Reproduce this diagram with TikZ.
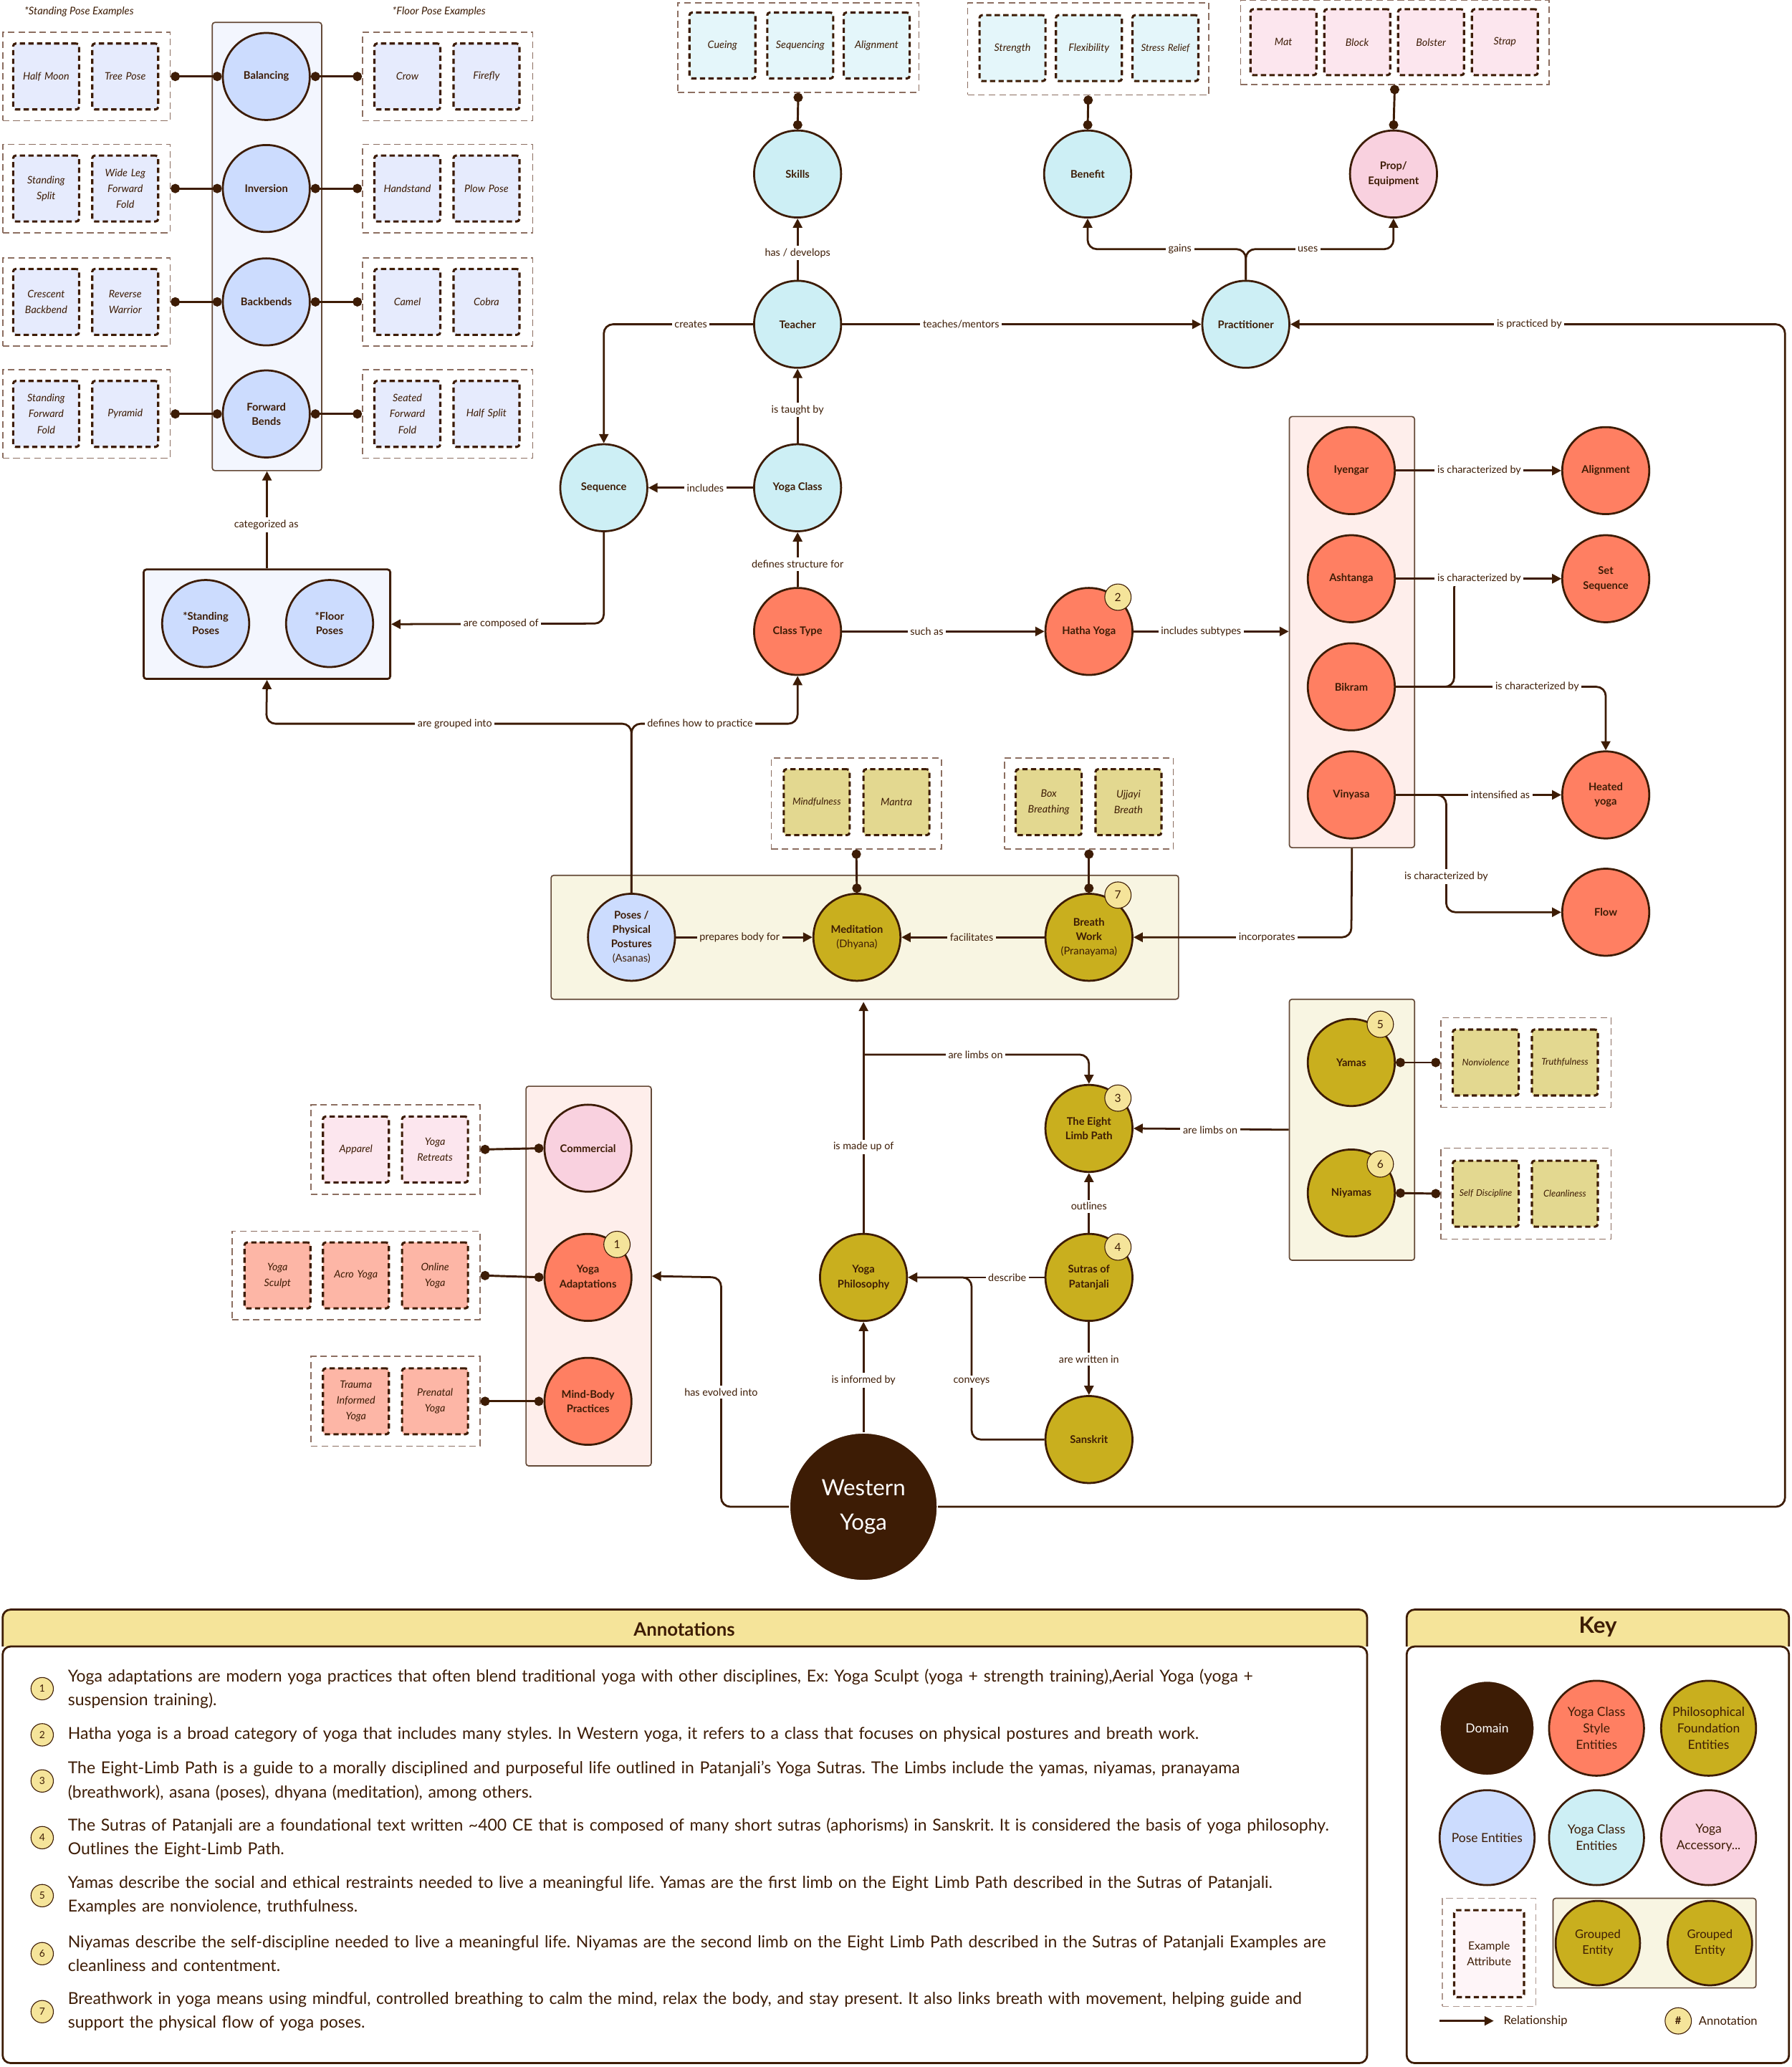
\documentclass[tikz,border=0pt]{standalone}
\usepackage{fontspec}
\setmainfont{Lato}
\usetikzlibrary{arrows.meta}
\newcommand\myannfont{\fontsize{12.5}{18}\selectfont\frenchspacing\hyphenpenalty 10000\exhyphenpenalty 10000\relax}
\definecolor{dk}{HTML}{3D1C05}
\definecolor{gb}{HTML}{8C6E60}
\definecolor{salmon}{HTML}{FF7F62}
\definecolor{olive}{HTML}{C9AF1E}
\definecolor{pinkc}{HTML}{F9D1DF}
\definecolor{cyanc}{HTML}{CDEFF5}
\definecolor{bluec}{HTML}{CCDCFE}
\definecolor{badgec}{HTML}{F5E49A}
\definecolor{blueL}{HTML}{E6EBFD}
\definecolor{cyanL}{HTML}{E4F6FA}
\definecolor{pinkL}{HTML}{FCE6EE}
\definecolor{oliveL}{HTML}{E3D890}
\definecolor{salL}{HTML}{FDB6A6}
\definecolor{cream}{HTML}{F8F5E2}
\definecolor{rose}{HTML}{FEEEEB}
\definecolor{paleblue}{HTML}{F3F6FE}
\tikzset{
ent/.style={circle, draw=dk, line width=1.5pt, minimum size=66pt, inner sep=0pt, align=center, text=dk, font=\fontsize{8}{11}\selectfont\bfseries},
ex/.style={draw=dk, dash pattern=on 4pt off 2.5pt, line width=1.7pt, rounded corners=2pt, minimum width=50pt, minimum height=50pt, text width=47pt, align=center, inner sep=1pt, text=dk, font=\fontsize{7.8}{12}\selectfont\itshape},
grp/.style={draw=gb, dash pattern=on 5pt off 3pt, line width=0.9pt, inner sep=0pt},
panel/.style={draw=dk!80, line width=0.9pt, rounded corners=2pt, inner sep=0pt},
dotc/.style={{Circle[length=7pt]}-{Circle[length=7pt]}, line width=1.6pt, draw=dk},
arr/.style={-{Triangle[length=7pt,width=7pt]}, line width=1.5pt, draw=dk, rounded corners=7pt},
lbl/.style={fill=white, inner sep=2pt, text=dk, font=\fontsize{7.8}{9}\selectfont},
badge/.style={circle, draw=dk, line width=0.6pt, fill=badgec, minimum size=20pt, inner sep=0pt, text=dk, font=\fontsize{8.5}{10}\selectfont},
ann/.style={anchor=west, text width=965pt, align=left, text=dk, font=\myannfont},
kc/.style={circle, draw=dk, line width=1.5pt, minimum size=72pt, inner sep=0pt, align=center, text=dk, font=\fontsize{9.5}{12.5}\selectfont},
}
\begin{document}
\begin{tikzpicture}[x=1pt,y=-1pt]
\useasboundingbox (0,0) rectangle (1359,1568);
\fill[white] (0,0) rectangle (1359,1568);

% ---------- pose panel ----------
\node[panel, fill=paleblue, minimum width=83pt, minimum height=340pt] (pp) at (202.5,187) {};
\node[text=dk, font=\fontsize{8}{9}\selectfont\itshape] (tsp) at (60,9) {*Standing Pose Examples};
\node[text=dk, font=\fontsize{8}{9}\selectfont\itshape] (tfp) at (333,9) {*Floor Pose Examples};
\foreach \y/\n/\t/\a/\b/\c/\d in {58/bal/Balancing/Half Moon/Tree Pose/Crow/Firefly,
 143/inv/Inversion/{Standing\\Split}/{Wide Leg\\Forward\\Fold}/Handstand/Plow Pose,
 229/bb/Backbends/{Crescent\\Backbend}/{Reverse\\Warrior}/Camel/Cobra,
 314/fb/{Forward\\Bends}/{Standing\\Forward\\Fold}/Pyramid/{Seated\\Forward\\Fold}/Half Split}{
 \node[ent, fill=bluec] (\n) at (202,\y) {\t};
 \node[grp, minimum width=127pt, minimum height=67pt] (\n L) at (65.5,\y) {};
 \node[grp, minimum width=129pt, minimum height=67pt] (\n R) at (339.5,\y) {};
 \node[ex, fill=blueL] (\n a) at (35,\y) {\a};
 \node[ex, fill=blueL] (\n b) at (95,\y) {\b};
 \node[ex, fill=blueL] (\n c) at (309,\y) {\c};
 \node[ex, fill=blueL] (\n d) at (369,\y) {\d};
 \draw[dotc] (\n L.east) -- (\n.west);
 \draw[dotc] (\n.east) -- (\n R.west);
}
\node[panel, fill=paleblue, draw=dk, line width=1.5pt, minimum width=187pt, minimum height=83pt] (sfb) at (202.5,473.5) {};
\node[ent, fill=bluec] (sp) at (156,473) {*Standing\\Poses};
\node[ent, fill=bluec] (flp) at (250,473) {*Floor\\Poses};
\draw[arr] (sfb.north) -- (pp.south);
\node[lbl] at (202,398) {categorized as};

% ---------- class entities ----------
\node[ent, fill=cyanc] (sk) at (605,132) {Skills};
\node[ent, fill=cyanc] (te) at (605,246) {Teacher};
\node[ent, fill=cyanc] (yc) at (605,370) {Yoga Class};
\node[ent, fill=cyanc] (sq) at (458,370) {Sequence};
\node[ent, fill=salmon] (ct) at (605,479) {Class Type};
\node[ent, fill=salmon] (hy) at (826,479) {Hatha Yoga};
\node[badge] (b2) at (848,453) {2};
\node[ent, fill=cyanc] (pr) at (945,246) {Practitioner};
\node[ent, fill=cyanc] (be) at (825,132) {Benefit};
\node[ent, fill=pinkc] (pe) at (1057,132) {Prop/\\Equipment};

\node[grp, minimum width=183pt, minimum height=68pt] (skg) at (605.5,36) {};
\node[ex, fill=cyanL] (e1) at (548,34.5) {Cueing};
\node[ex, fill=cyanL] (e2) at (607,34.5) {Sequencing};
\node[ex, fill=cyanL] (e3) at (665,34.5) {Alignment};
\node[grp, minimum width=183pt, minimum height=70pt] (beg) at (825.5,37) {};
\node[ex, fill=cyanL] (e4) at (768,36.5) {Strength};
\node[ex, fill=cyanL] (e5) at (826,36.5) {Flexibility};
\node[ex, fill=cyanL, font=\fontsize{7.3}{11}\selectfont\itshape] (e6) at (884,36.5) {Stress Relief};
\node[grp, minimum width=234pt, minimum height=64pt] (peg) at (1058,32) {};
\node[ex, fill=pinkL] (e7) at (973.5,32) {Mat};
\node[ex, fill=pinkL] (e8) at (1029.5,32) {Block};
\node[ex, fill=pinkL] (e9) at (1085.5,32) {Bolster};
\node[ex, fill=pinkL] (e10) at (1141.5,32) {Strap};
\draw[dotc] (sk.north) -- (skg.south);
\draw[dotc] (be.north) -- (beg.south);
\draw[dotc] (pe.north) -- (peg.south);

\draw[arr] (te.north) -- (sk.south);
\node[lbl] at (605,192) {has / develops};
\draw[arr] (yc.north) -- (te.south);
\node[lbl] at (605,311) {is taught by};
\draw[arr] (ct.north) -- (yc.south);
\node[lbl] at (605,428) {defines structure for};
\draw[arr] (yc.west) -- (sq.east);
\node[lbl] at (535,370) {includes};
\draw[arr] (te.west) -- (458,246) -- (sq.north);
\node[lbl] at (524,246) {creates};
\draw[arr] (te.east) -- (pr.west);
\node[lbl] at (729,246) {teaches/mentors};
\draw[arr] (pr.north) -- (945,189) -- (825,189) -- (be.south);
\draw[arr] (pr.north) -- (945,189) -- (1057,189) -- (pe.south);
\node[lbl] at (895,189) {gains};
\node[lbl] at (992,189) {uses};
\draw[arr] (sq.south) -- (458,473) -- (sfb.east);
\node[lbl] at (380,473) {are composed of};
\draw[arr] (ct.east) -- (hy.west);
\node[lbl] at (703,479) {such as};

% ---------- styles ----------
\node[panel, fill=rose, minimum width=95pt, minimum height=327pt] (stp) at (1025.5,479.5) {};
\node[ent, fill=salmon] (iy) at (1025,357) {Iyengar};
\node[ent, fill=salmon] (as) at (1025,439) {Ashtanga};
\node[ent, fill=salmon] (bk) at (1025,521) {Bikram};
\node[ent, fill=salmon] (vi) at (1025,603) {Vinyasa};
\node[ent, fill=salmon] (al) at (1218,357) {Alignment};
\node[ent, fill=salmon] (ss) at (1218,439) {Set\\Sequence};
\node[ent, fill=salmon] (hot) at (1218,603) {Heated\\yoga};
\node[ent, fill=salmon] (fl) at (1218,692) {Flow};
\draw[arr] (hy.east) -- (stp.west |- hy.east);
\node[lbl] at (911,479) {includes subtypes};
\draw[arr] (iy.east) -- (al.west);
\node[lbl] at (1122,357) {is characterized by};
\draw[arr] (as.east) -- (ss.west);
\draw[arr] (bk.east) -- (1103,521) -- (1103,439) -- (ss.west);
\node[lbl] at (1122,439) {is characterized by};
\draw[arr] (bk.east) -- (1218,521) -- (hot.north);
\node[lbl] at (1166,521) {is characterized by};
\draw[arr] (vi.east) -- (hot.west);
\node[lbl] at (1138,603) {intensified as};
\draw[arr] (vi.east) -- (1097,603) -- (1097,692) -- (fl.west);
\node[lbl] at (1097,665) {is characterized by};

% ---------- limbs panel ----------
\node[panel, fill=cream, minimum width=476pt, minimum height=94pt] (lp) at (656,711) {};
\node[ent, fill=bluec] (po) at (479,711) {Poses /\\Physical\\Postures\\{\mdseries(Asanas)}};
\node[ent, fill=olive] (me) at (650,711) {Meditation\\{\mdseries(Dhyana)}};
\node[ent, fill=olive] (bw) at (826,711) {Breath\\Work\\{\mdseries(Pranayama)}};
\node[badge] (b7) at (848,679) {7};
\node[grp, minimum width=129pt, minimum height=69pt] (meg) at (649.5,609.5) {};
\node[ex, fill=oliveL, font=\fontsize{7.3}{11}\selectfont\itshape] (e11) at (619.5,608.5) {Mindfulness};
\node[ex, fill=oliveL] (e12) at (680,608.5) {Mantra};
\node[grp, minimum width=128pt, minimum height=69pt] (bwg) at (826,609.5) {};
\node[ex, fill=oliveL] (e13) at (795.5,608.5) {Box\\Breathing};
\node[ex, fill=oliveL] (e14) at (856,608.5) {Ujjayi\\Breath};
\draw[dotc] (me.north) -- (meg.south);
\draw[dotc] (bw.north) -- (bwg.south);
\draw[arr] (po.east) -- (me.west);
\node[lbl, fill=cream] at (561,711) {prepares body for};
\draw[arr] (bw.west) -- (me.east);
\node[lbl, fill=cream] at (737,711) {facilitates};
\draw[arr] (stp.south) -- (1025,711) -- (bw.east);
\node[lbl] at (961,711) {incorporates};
\draw[arr] (po.north) -- (479,549) -- (202,549) -- (sfb.south);
\draw[arr] (po.north) -- (479,549) -- (605,549) -- (ct.south);
\node[lbl] at (345,549) {are grouped into};
\node[lbl] at (531,549) {defines how to practice};

% ---------- philosophy ----------
\node[ent, fill=olive] (ph) at (655,969) {Yoga\\Philosophy};
\node[ent, fill=olive] (el) at (826,856) {The Eight\\Limb Path};
\node[badge] (b3) at (848,833) {3};
\node[ent, fill=olive] (su) at (826,969) {Sutras of\\Patanjali};
\node[badge] (b4) at (848,946) {4};
\node[ent, fill=olive] (sa) at (826,1092) {Sanskrit};
\draw[arr] (ph.north) -- (655,760);
\node[lbl] at (655,870) {is made up of};
\coordinate (lb) at (655,800);
\draw[arr] (lb) -- (826,800) -- (el.north);
\node[lbl] at (740,800) {are limbs on};
\draw[arr] (su.north) -- (el.south);
\node[lbl] at (826,915) {outlines};
\draw[arr] (su.west) -- (ph.east);
\node[lbl] at (764,969) {describe};
\draw[arr] (su.south) -- (sa.north);
\node[lbl] at (826,1031) {are written in};
\draw[arr] (sa.west) -- (737,1092) -- (737,969) -- (ph.east);
\node[lbl] at (737,1048) {conveys};

\node[panel, fill=cream, minimum width=95pt, minimum height=198pt] (yp) at (1025.5,857) {};
\node[ent, fill=olive] (ya) at (1025,806) {Yamas};
\node[badge] (b5) at (1047,777) {5};
\node[ent, fill=olive] (ni) at (1025,905) {Niyamas};
\node[badge] (b6) at (1047,883) {6};
\draw[arr] (yp.west) -- (el.east);
\node[lbl] at (918,857) {are limbs on};
\node[grp, minimum width=129pt, minimum height=68pt] (yag) at (1157.5,806) {};
\node[ex, fill=oliveL, font=\fontsize{7}{11}\selectfont\itshape] (e15) at (1127,806) {Nonviolence};
\node[ex, fill=oliveL, font=\fontsize{7}{11}\selectfont\itshape] (e16) at (1187,806) {Truthfulness};
\node[grp, minimum width=129pt, minimum height=69pt] (nig) at (1157.5,905.5) {};
\node[ex, fill=oliveL, font=\fontsize{6.8}{11}\selectfont\itshape] (e17) at (1127,905.5) {Self Discipline};
\node[ex, fill=oliveL, font=\fontsize{7}{11}\selectfont\itshape] (e18) at (1187,905.5) {Cleanliness};
\draw[dotc] (ya.east) -- (yag.west);
\draw[dotc] (ni.east) -- (nig.west);

% ---------- adaptations ----------
\node[panel, fill=rose, minimum width=95pt, minimum height=288pt] (ap) at (446.5,968) {};
\node[ent, fill=pinkc] (co) at (446,871) {Commercial};
\node[ent, fill=salmon] (ad) at (446,969) {Yoga\\Adaptations};
\node[badge] (b1) at (468,944) {1};
\node[ent, fill=salmon] (mb) at (446,1063) {Mind-Body\\Practices};
\node[grp, minimum width=128pt, minimum height=68pt] (cog) at (300,872) {};
\node[ex, fill=pinkL] (e19) at (270,872) {Apparel};
\node[ex, fill=pinkL] (e20) at (330,872) {Yoga\\Retreats};
\node[grp, minimum width=188pt, minimum height=67pt] (adg) at (270,967.5) {};
\node[ex, fill=salL] (e21) at (210.5,967.5) {Yoga\\Sculpt};
\node[ex, fill=salL] (e22) at (270,967.5) {Acro Yoga};
\node[ex, fill=salL] (e23) at (330,967.5) {Online\\Yoga};
\node[grp, minimum width=128pt, minimum height=68pt] (mbg) at (300,1063) {};
\node[ex, fill=salL] (e24) at (270,1063) {Trauma\\Informed\\Yoga};
\node[ex, fill=salL] (e25) at (330,1063) {Prenatal\\Yoga};
\draw[dotc] (cog.east) -- (co.west);
\draw[dotc] (adg.east) -- (ad.west);
\draw[dotc] (mbg.east) -- (mb.west);

% ---------- domain ----------
\node[circle, fill=dk, draw=white, line width=1pt, minimum size=112pt, align=center, text=white, font=\fontsize{17}{26}\selectfont] (wy) at (655,1143) {Western\\Yoga};
\draw[arr] (wy.north) -- (ph.south);
\node[lbl] at (655,1047) {is informed by};
\draw[arr] (wy.west) -- (547,1143) -- (547,969) -- (ap.east);
\node[lbl] at (547,1056) {has evolved into};
\draw[arr] (wy.east) -- (1354,1143) -- (1354,246) -- (pr.east);
\node[lbl] at (1160,246) {is practiced by};

% ---------- annotations ----------
\draw[dk, line width=1.5pt, fill=badgec, rounded corners=6pt] (2,1249) -- (2,1221) -- (1037,1221) -- (1037,1249);
\draw[dk, line width=1.5pt, rounded corners=6pt] (2,1249) -- (2,1565) -- (1037,1565) -- (1037,1249) -- cycle;
\node[text=dk, font=\fontsize{14}{16}\selectfont\bfseries] (annt) at (519,1236) {Annotations};
\foreach \y/\n/\t in {
1281/1/{Yoga adaptations are modern yoga practices that often blend traditional yoga with other disciplines, Ex: Yoga Sculpt (yoga + strength training),Aerial Yoga (yoga +\\suspension training).},
1316/2/{Hatha yoga is a broad category of yoga that includes many styles. In Western yoga, it refers to a class that focuses on physical postures and breath work.},
1351/3/{The Eight-Limb Path is a guide to a morally disciplined and purposeful life outlined in Patanjali's Yoga Sutras. The Limbs include the yamas, niyamas, pranayama\\(breathwork), asana (poses), dhyana (meditation), among others.},
1394/4/{The Sutras of Patanjali are a foundational text written \textasciitilde400 CE that is composed of many short sutras (aphorisms) in Sanskrit. It is considered the basis of yoga philosophy.\\Outlines the Eight-Limb Path.},
1438/5/{Yamas describe the social and ethical restraints needed to live a meaningful life. Yamas are the first limb on the Eight Limb Path described in the Sutras of Patanjali.\\Examples are nonviolence, truthfulness.},
1482/6/{Niyamas describe the self-discipline needed to live a meaningful life. Niyamas are the second limb on the Eight Limb Path described in the Sutras of Patanjali Examples are\\cleanliness and contentment.},
1526/7/{Breathwork in yoga means using mindful, controlled breathing to calm the mind, relax the body, and stay present. It also links breath with movement, helping guide and\\support the physical flow of yoga poses.}}{
 \node[badge, minimum size=17pt, font=\fontsize{7.5}{9}\selectfont] (ab\n) at (32,\y) {\n};
 \node[ann] (at\n) at (48,\y) {\t};
}

% ---------- key ----------
\draw[dk, line width=1.5pt, fill=badgec, rounded corners=6pt] (1067,1249) -- (1067,1221) -- (1357,1221) -- (1357,1249);
\draw[dk, line width=1.5pt, rounded corners=6pt] (1067,1249) -- (1067,1565) -- (1357,1565) -- (1357,1249) -- cycle;
\node[text=dk, font=\fontsize{17}{19}\selectfont\bfseries] (keyt) at (1212,1234) {Key};
\node[kc, fill=dk, text=white, draw=white] (k1) at (1128,1311) {Domain};
\node[kc, fill=salmon] (k2) at (1211,1311) {Yoga Class\\Style\\Entities};
\node[kc, fill=olive] (k3) at (1296,1311) {Philosophical\\Foundation\\Entities};
\node[kc, fill=bluec] (k4) at (1128,1394) {Pose Entities};
\node[kc, fill=cyanc] (k5) at (1211,1394) {Yoga Class\\Entities};
\node[kc, fill=pinkc] (k6) at (1296,1394) {Yoga\\Accessory...};
\node[grp, draw=gb!70, minimum width=71pt, minimum height=82pt] (kg) at (1129.5,1481) {};
\node[ex, fill=pinkL!40, minimum width=53pt, minimum height=66pt, font=\fontsize{8.5}{12}\selectfont] (kex) at (1129.5,1482) {Example\\Attribute};
\node[panel, fill=cream, minimum width=154pt, minimum height=68pt] (kgp) at (1255,1474) {};
\node[kc, fill=olive, minimum size=64pt, font=\fontsize{9}{12}\selectfont] (kg1) at (1212,1474) {Grouped\\Entity};
\node[kc, fill=olive, minimum size=64pt, font=\fontsize{9}{12}\selectfont] (kg2) at (1297,1474) {Grouped\\Entity};
\coordinate (ka) at (1092,1533);
\coordinate (kb) at (1133,1533);
\draw[-{Triangle[length=7pt,width=7pt]}, line width=1.3pt, dk] (ka) -- (kb);
\node[text=dk, font=\fontsize{9}{11}\selectfont, anchor=west] (krel) at (1137,1533) {Relationship};
\node[badge, minimum size=20pt, font=\fontsize{8}{10}\selectfont\bfseries] (kbd) at (1273,1533) {\#};
\node[text=dk, font=\fontsize{9}{11}\selectfont, anchor=west] (kann) at (1285,1533) {Annotation};
\end{tikzpicture}
\end{document}
